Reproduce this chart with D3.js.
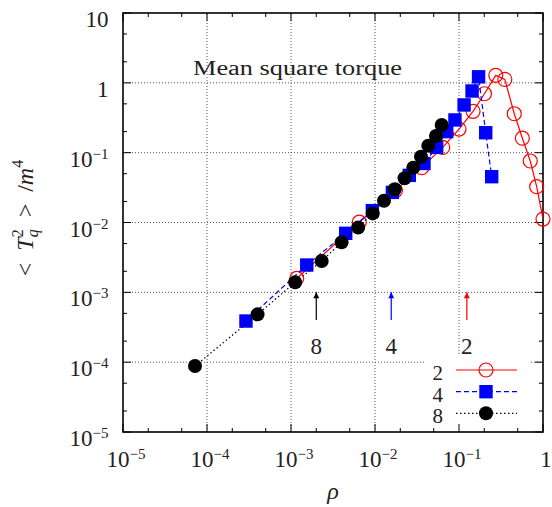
<!DOCTYPE html>
<html>
<head>
<meta charset="utf-8">
<script src="https://cdn.jsdelivr.net/npm/d3@7"></script>
<style>
  html, body { margin: 0; padding: 0; background: #fff; }
  svg { display: block; }
</style>
</head>
<body>
<svg id="chart" width="552" height="507" font-family="'Liberation Serif', 'DejaVu Serif', serif"></svg>
<script>
// Mean square torque versus density, for n = 2, 4 and 8
const rho2 = [1.17e-3, 6.5e-3, 1.75e-2, 3.6e-2, 6.4e-2, 0.1, 0.147, 0.201, 0.274, 0.351, 0.455, 0.568, 0.705, 0.841, 1.0];
const torque2 = [1.58e-3, 1.01e-2, 2.87e-2, 6.1e-2, 0.119, 0.218, 0.391, 0.698, 1.28, 1.12, 0.361, 0.161, 0.076, 0.0326, 0.0112];

const rho4 = [2.91e-4, 1.54e-3, 4.48e-3, 9.3e-3, 1.61e-2, 2.56e-2, 3.83e-2, 5.42e-2, 7.13e-2, 8.95e-2, 0.115, 0.143, 0.171, 0.208, 0.245];
const torque4 = [3.88e-4, 2.46e-3, 7.0e-3, 1.48e-2, 2.7e-2, 4.73e-2, 7.0e-2, 0.119, 0.2, 0.294, 0.482, 0.764, 1.22, 0.193, 0.0453];

const rho8 = [7.2e-5, 4.0e-4, 1.12e-3, 2.32e-3, 4.0e-3, 6.3e-3, 9.4e-3, 1.28e-2, 1.72e-2, 2.25e-2, 2.86e-2, 3.53e-2, 4.31e-2, 5.32e-2, 6.22e-2];
const torque8 = [8.8e-5, 4.84e-4, 1.39e-3, 2.81e-3, 5.2e-3, 8.5e-3, 1.35e-2, 2.05e-2, 3.0e-2, 4.3e-2, 6.1e-2, 8.75e-2, 0.126, 0.173, 0.249];

// arrows marking a characteristic density for each n
const arrowLabels = ["8", "4", "2"];
const arrowRho = [2.0e-3, 1.56e-2, 0.124];
const arrowFrom = [4.0e-4, 4.0e-4, 4.0e-4];
const arrowTo = [1.0e-3, 1.0e-3, 1.0e-3];

// tick labels (powers of ten)
const xTickExps = [-5, -4, -3, -2, -1, 0];
const yTickExps = [-5, -4, -3, -2, -1, 0, 1];
const seriesNames = ["2", "4", "8"];

const svg = d3.select("#chart");
const ink = "#222";
const L = 123, R = 543, T = 13, B = 432;
const x = d3.scaleLog().domain([1e-5, 1]).range([L, R]);
const y = d3.scaleLog().domain([1e-5, 10]).range([B, T]);

const xMajor = xTickExps.map(e => Math.pow(10, e));
const yMajor = yTickExps.map(e => Math.pow(10, e));
const minorOf = majors => {
  const out = [];
  majors.slice(0, -1).forEach(m => { out.push(2 * m, 5 * m); });
  return out;
};
const xMinor = minorOf(xMajor);
const yMinor = minorOf(yMajor);

// dotted grid
const grid = svg.append("g").attr("stroke", "#555").attr("stroke-width", 1).attr("stroke-dasharray", "1,2");
grid.selectAll("line.v").data(xMajor.slice(1, -1)).join("line")
  .attr("x1", d => x(d)).attr("x2", d => x(d)).attr("y1", B).attr("y2", T);
grid.selectAll("line.h").data(yMajor.slice(1, -1)).join("line")
  .attr("y1", d => y(d)).attr("y2", d => y(d)).attr("x1", L).attr("x2", R);

// title
svg.append("text").attr("x", 193).attr("y", 75).attr("font-size", 20).attr("fill", ink)
  .attr("textLength", 209).attr("lengthAdjust", "spacingAndGlyphs")
  .text("Mean square torque");

// arrows
const arrowColors = ["#000", "#0000ff", "#ff0000"];
const defs = svg.append("defs");
arrowColors.forEach((c, i) => {
  defs.append("marker").attr("id", "ah" + i).attr("viewBox", "0 0 10 10")
    .attr("refX", 10).attr("refY", 5).attr("markerWidth", 9).attr("markerHeight", 6)
    .attr("markerUnits", "userSpaceOnUse").attr("orient", "auto")
    .append("path").attr("d", "M0,0 L10,5 L0,10 Z").attr("fill", c);
});
arrowRho.forEach((r, i) => {
  svg.append("line").attr("x1", x(r)).attr("x2", x(r))
    .attr("y1", y(arrowFrom[i])).attr("y2", y(arrowTo[i]))
    .attr("stroke", arrowColors[i]).attr("stroke-width", 1.2)
    .attr("marker-end", `url(#ah${i})`);
  svg.append("text").attr("x", x(r)).attr("y", 354).attr("font-size", 23).attr("fill", ink)
    .attr("text-anchor", "middle").text(arrowLabels[i]);
});

// key background
svg.append("rect").attr("x", 426).attr("y", 356).attr("width", 103).attr("height", B - 356).attr("fill", "#fff");

// frame ticks
const tickG = svg.append("g").attr("stroke", "#000").attr("stroke-width", 1);
const addTicks = (vals, len) => {
  vals.forEach(v => {
    tickG.append("line").attr("x1", x(v)).attr("x2", x(v)).attr("y1", B).attr("y2", B - len);
    tickG.append("line").attr("x1", x(v)).attr("x2", x(v)).attr("y1", T).attr("y2", T + len);
  });
};
const addYTicks = (vals, len) => {
  vals.forEach(v => {
    tickG.append("line").attr("y1", y(v)).attr("y2", y(v)).attr("x1", L).attr("x2", L + len);
    tickG.append("line").attr("y1", y(v)).attr("y2", y(v)).attr("x1", R).attr("x2", R - len);
  });
};
addTicks(xMajor, 8); addTicks(xMinor, 4);
addYTicks(yMajor, 8); addYTicks(yMinor, 4);
svg.append("rect").attr("x", L).attr("y", T).attr("width", R - L).attr("height", B - T)
  .attr("fill", "none").attr("stroke", "#000").attr("stroke-width", 1.6);

// tick labels
const powerLabel = (sel, e) => {
  if (e === 0) { sel.append("tspan").text("1"); return; }
  if (e === 1) { sel.append("tspan").text("10"); return; }
  sel.append("tspan").text("10");
  sel.append("tspan").attr("dy", -8).attr("font-size", 15).text("\u2212" + Math.abs(e));
};
xTickExps.forEach(e => {
  const t = svg.append("text").attr("x", x(Math.pow(10, e)) + 3).attr("y", 467).attr("fill", ink)
    .attr("font-size", 23).attr("text-anchor", "middle");
  powerLabel(t, e);
});
yTickExps.forEach(e => {
  const t = svg.append("text").attr("x", 108.5).attr("y", y(Math.pow(10, e)) + 14).attr("fill", ink)
    .attr("font-size", 23).attr("text-anchor", "end");
  powerLabel(t, e);
});

// axis titles
svg.append("text").attr("x", 333).attr("y", 499).attr("font-size", 24).attr("fill", ink)
  .attr("font-style", "italic").attr("text-anchor", "middle").text("\u03c1");

const yl = svg.append("text").attr("transform", "translate(33,218) rotate(-90)").attr("fill", ink)
  .attr("font-size", 24).attr("text-anchor", "middle");
yl.append("tspan").text("<\u2002");
yl.append("tspan").attr("font-style", "italic").text("T");
yl.append("tspan").attr("font-style", "italic").attr("font-size", 16).attr("dy", 5).text("q");
yl.append("tspan").attr("font-size", 16).attr("dx", -8).attr("dy", -15).text("2");
yl.append("tspan").attr("dy", 10).text("\u2002>\u2002/");
yl.append("tspan").attr("font-style", "italic").text("m");
yl.append("tspan").attr("font-size", 16).attr("dy", -10).text("4");

// series
const series = [
  { rho: rho2, t: torque2, color: "#ff0000", dash: null, shape: "open" },
  { rho: rho4, t: torque4, color: "#0000ff", dash: "5,3", shape: "square" },
  { rho: rho8, t: torque8, color: "#000000", dash: "1.5,2.5", shape: "disc" }
];
const line = d3.line().x(d => x(d[0])).y(d => y(d[1]));

const drawMarker = (g, s, cx, cy) => {
  if (s.shape === "open") {
    g.append("circle").attr("cx", cx).attr("cy", cy).attr("r", 7)
      .attr("fill", "none").attr("stroke", s.color).attr("stroke-width", 1.2);
  } else if (s.shape === "square") {
    g.append("rect").attr("x", cx - 6.7).attr("y", cy - 6.7).attr("width", 13.4).attr("height", 13.4)
      .attr("fill", s.color);
  } else {
    g.append("circle").attr("cx", cx).attr("cy", cy).attr("r", 7).attr("fill", s.color);
  }
};

// draw back to front: 2, 4, 8
series.forEach(s => {
  const pts = s.rho.map((r, i) => [r, s.t[i]]);
  svg.append("path").attr("d", line(pts)).attr("fill", "none")
    .attr("stroke", s.color).attr("stroke-width", 1.2)
    .attr("stroke-dasharray", s.dash);
  const g = svg.append("g");
  pts.forEach(p => drawMarker(g, s, x(p[0]), y(p[1])));
});

// key
const keyY = [370, 391.7, 413.3];
series.forEach((s, i) => {
  svg.append("text").attr("x", 443).attr("y", keyY[i] + 10).attr("font-size", 21).attr("fill", ink)
    .attr("text-anchor", "end").text(seriesNames[i]);
  svg.append("line").attr("x1", 456).attr("x2", 517).attr("y1", keyY[i]).attr("y2", keyY[i])
    .attr("stroke", s.color).attr("stroke-width", 1.2).attr("stroke-dasharray", s.dash);
  drawMarker(svg.append("g"), s, 486, keyY[i]);
});
</script>
</body>
</html>
